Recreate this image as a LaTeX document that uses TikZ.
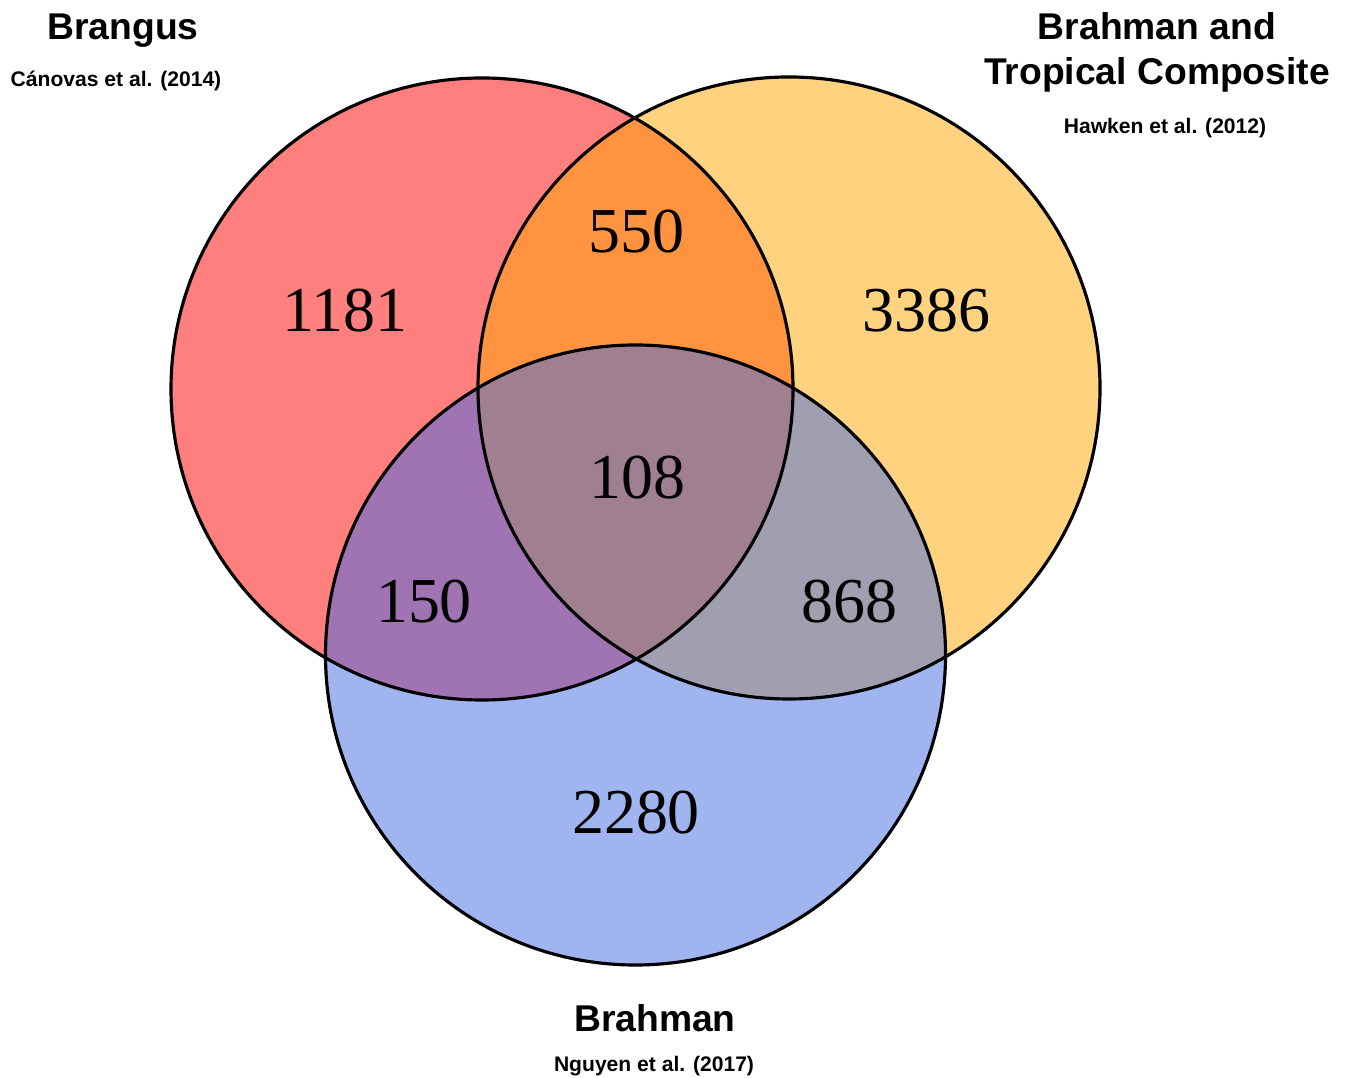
\documentclass[tikz,border=0pt]{standalone}
\usepackage{fontspec}
\setmainfont{Liberation Serif}
\newfontfamily\labelfont{Liberation Sans}
\definecolor{brangus}{HTML}{FF7F7F}
\definecolor{tropical}{HTML}{FFD27F}
\definecolor{brahman}{HTML}{A0B4EF}
\definecolor{brangustrop}{HTML}{FF9340}
\definecolor{brangusbrah}{HTML}{A073B3}
\definecolor{tropbrah}{HTML}{A09FB0}
\definecolor{allthree}{HTML}{A07F90}

\begin{document}
\begin{tikzpicture}[
    count/.style={font=\fontsize{18.2}{20}\selectfont},
    breed/.style={font=\labelfont\bfseries\fontsize{10.6}{12.8}\selectfont, align=center},
    source/.style={font=\labelfont\bfseries\fontsize{6}{7}\selectfont}]
    \useasboundingbox (0, 0) rectangle (13.49, 10.77);
    % the three sets
    \fill[brangus] (4.82, 6.88) circle (3.11);
    \fill[tropical] (7.89, 6.89) circle (3.11);
    \fill[brahman] (6.355, 4.22) circle (3.10);
    % pairwise overlaps
    \begin{scope}
	\clip (4.82, 6.88) circle (3.11);
	\fill[brangustrop] (7.89, 6.89) circle (3.11);
	\fill[brangusbrah] (6.355, 4.22) circle (3.10);
    \end{scope}
    \begin{scope}
	\clip (7.89, 6.89) circle (3.11);
	\fill[tropbrah] (6.355, 4.22) circle (3.10);
    \end{scope}
    \begin{scope}
	\clip (4.82, 6.88) circle (3.11);
	\clip (7.89, 6.89) circle (3.11);
	\fill[allthree] (6.355, 4.22) circle (3.10);
    \end{scope}
    % outlines
    \draw[line width=0.9pt] (4.82, 6.88) circle (3.11);
    \draw[line width=0.9pt] (7.89, 6.89) circle (3.11);
    \draw[line width=0.9pt] (6.355, 4.22) circle (3.10);
    % counts
    \node[count] (n550) at (6.36, 8.45) {550};
    \node[count] (n1181) at (3.45, 7.66) {1181};
    \node[count] (n3386) at (9.26, 7.66) {3386};
    \node[count] (n108) at (6.37, 5.99) {108};
    \node[count] (n150) at (4.24, 4.75) {150};
    \node[count] (n868) at (8.49, 4.75) {868};
    \node[count] (n2280) at (6.36, 2.64) {2280};
    % set labels
    \node[breed] (brangus) at (1.23, 10.46) {Brangus};
    \node[source] (canovas) at (1.16, 9.96) {Cánovas et al. (2014)};
    \node[breed] (tropical) at (11.57, 10.25) {Brahman and\\Tropical Composite};
    \node[source] (hawken) at (11.65, 9.49) {Hawken et al. (2012)};
    \node[breed] (brahman) at (6.55, 0.59) {Brahman};
    \node[source] (nguyen) at (6.54, 0.11) {Nguyen et al. (2017)};
\end{tikzpicture}
\end{document}
